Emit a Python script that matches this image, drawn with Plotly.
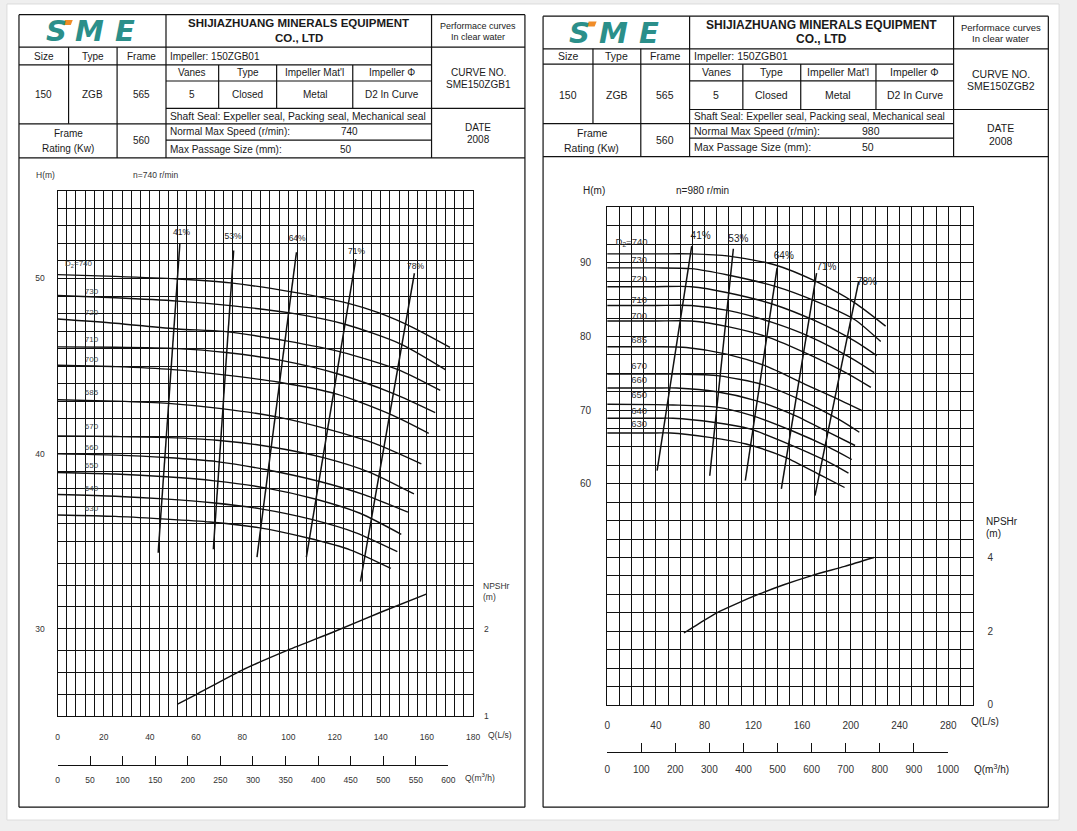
import plotly.graph_objects as go

W, H = 1077, 831
FONT = "Liberation Sans, Arial, sans-serif"

# ================= LEFT SHEET  (n = 740 r/min) =================
L_DIAMS = ["740", "730", "720", "710", "700", "685", "670", "660", "650", "640", "630"]
L_Q = [
    [0, 25, 52, 75, 102, 126, 139, 154, 170],
    [0, 25, 52, 75, 100, 124.5, 148.7, 168],
    [0, 25, 52, 72, 99, 123, 147.5, 165.8],
    [0, 25, 52, 73, 97.4, 121.6, 145.8, 163.6],
    [0, 25, 50, 72, 96, 121, 145, 160.8],
    [0, 25, 48, 71, 95, 117, 137, 157.6],
    [0, 25, 48, 69, 92, 116, 135, 154.4],
    [0, 25, 47, 69, 90, 114, 133, 151.8],
    [0, 25, 47, 68, 90, 112, 131, 148.9],
    [0, 25, 46, 67, 88, 110, 129, 147.2],
    [0, 25, 45, 66, 87, 108, 127, 144.4],
]
L_H = [
    [50.22, 50.12, 49.97, 49.75, 49.22, 48.58, 48.05, 47.2, 46.07],
    [49.03, 48.9, 48.71, 48.45, 48.05, 47.39, 46.26, 44.8],
    [47.69, 47.45, 47.12, 46.98, 46.44, 45.8, 44.8, 43.61],
    [46.1, 46.08, 46.0, 45.78, 45.31, 44.55, 43.42, 42.35],
    [45.05, 44.97, 44.8, 44.5, 44.08, 43.4, 42.2, 41.16],
    [43.08, 43.0, 42.87, 42.57, 42.1, 41.4, 40.6, 39.42],
    [41.02, 40.98, 40.92, 40.77, 40.4, 39.75, 38.95, 37.7],
    [39.99, 39.92, 39.78, 39.55, 39.1, 38.4, 37.65, 36.66],
    [38.93, 38.84, 38.68, 38.45, 38.05, 37.4, 36.6, 35.4],
    [37.67, 37.57, 37.42, 37.2, 36.85, 36.25, 35.5, 34.41],
    [36.5, 36.42, 36.28, 36.1, 35.78, 35.2, 34.5, 33.45],
]
L_DLAB_Q = [9.1, 14.7, 14.7, 14.7, 14.7, 14.7, 14.7, 14.7, 14.7, 14.7, 14.7]
L_DLAB_H = [50.8, 49.24, 48.05, 46.48, 45.36, 43.44, 41.53, 40.3, 39.3, 38.0, 36.85]
L_EFF = ["41%", "53%", "64%", "71%", "78%"]
L_EFF_Q = [[53.0, 43.6], [76.3, 67.5], [103.5, 86.4], [129.2, 107.8], [154.6, 131.2]]
L_EFF_H = [[52.0, 34.35], [51.6, 34.55], [51.5, 34.1], [51.1, 34.1], [50.3, 32.7]]
L_EFF_LQ = [53.7, 76.0, 103.8, 129.5, 155.1]
L_EFF_LH = [52.6, 52.4, 52.25, 51.5, 50.65]
L_NPSH_Q = [52, 60, 80, 100, 120, 140, 160]
L_NPSH = [1.14, 1.25, 1.53, 1.76, 1.97, 2.19, 2.40]
L_QTICKS = [0, 20, 40, 60, 80, 100, 120, 140, 160, 180]
L_HTICKS = [30, 40, 50]
L_NPSH_TICKS = [1, 2]
L_M3H_TICKS = [0, 50, 100, 150, 200, 250, 300, 350, 400, 450, 500, 550, 600]

# ================= RIGHT SHEET (n = 980 r/min) =================
R_DIAMS = ["740", "730", "720", "710", "700", "685", "670", "660", "650", "640", "630"]
R_Q = [
    [0, 40, 69, 100, 138, 171, 203, 228.6],
    [0, 40, 69, 100, 138, 171, 203, 224.6],
    [0, 40, 69, 100, 135.5, 171, 203, 221.3],
    [0, 40, 69, 100, 135.5, 168, 200, 219.2],
    [0, 40, 69, 100, 133, 165, 198, 216.5],
    [0, 40, 65, 98, 130, 162.5, 192, 209.7],
    [0, 40, 60, 92, 127, 160, 189.5, 207],
    [0, 40, 57, 90, 122, 154.4, 184, 203.5],
    [0, 40, 54, 90, 119, 151.7, 181.4, 200.8],
    [0, 40, 54, 87, 117, 149, 178.7, 198.1],
    [0, 40, 52, 84, 114, 146.3, 176, 194.9],
]
R_H = [
    [91.2, 91.2, 91.2, 90.9, 89.7, 87.5, 84.6, 81.4],
    [89.3, 89.3, 89.2, 88.3, 86.8, 84.8, 82.3, 79.3],
    [86.75, 86.75, 86.75, 85.9, 84.4, 82.1, 79.4, 77.4],
    [84.2, 84.2, 84.2, 83.5, 81.9, 79.85, 77.1, 75.1],
    [82.1, 82.1, 82.1, 81.3, 79.85, 77.6, 74.9, 73.1],
    [78.6, 78.6, 78.5, 77.6, 76.0, 73.5, 71.3, 69.9],
    [74.9, 74.9, 74.9, 74.65, 73.5, 71.3, 68.8, 67.0],
    [73.0, 73.0, 73.0, 72.5, 71.3, 69.25, 66.8, 65.2],
    [70.8, 70.75, 70.7, 70.4, 69.25, 67.2, 65.0, 63.3],
    [68.9, 68.9, 68.9, 68.35, 67.45, 65.4, 63.2, 61.45],
    [66.9, 66.9, 66.9, 66.3, 65.4, 63.6, 61.1, 59.5],
]
R_DLAB_Q = [20.0, 26.2, 26.2, 26.2, 26.2, 26.2, 26.2, 26.2, 26.2, 26.2, 26.2]
R_DLAB_H = [92.7, 90.3, 87.75, 84.9, 82.7, 79.4, 75.9, 74.0, 71.9, 69.8, 68.0]
R_EFF = ["41%", "53%", "64%", "71%", "78%"]
R_EFF_Q = [[69.4, 41.0], [103.6, 84.2], [139.5, 113.4], [171.9, 143.0], [206.5, 170.6]]
R_EFF_H = [[92.25, 61.8], [91.9, 61.1], [89.3, 60.45], [88.6, 59.3], [87.5, 58.4]]
R_EFF_LQ = [76.7, 107.7, 145.0, 180.0, 213.2]
R_EFF_LH = [93.6, 93.2, 90.8, 89.3, 87.3]
R_NPSH_Q = [63, 75, 90, 105, 125, 145, 168, 195, 219]
R_NPSH = [1.95, 2.2, 2.5, 2.73, 3.01, 3.26, 3.51, 3.76, 4.0]
R_QTICKS = [0, 40, 80, 120, 160, 200, 240, 280]
R_HTICKS = [60, 70, 80, 90]
R_NPSH_TICKS = [0, 2, 4]
R_M3H_TICKS = [0, 100, 200, 300, 400, 500, 600, 700, 800, 900, 1000]

# ---------------- layout geometry (pixels) ----------------
def fx(x):
    return x / W


def fy(y):
    return 1 - y / H


fig = go.Figure()


def add_sheet(xa, ya, yn, Q, Hh, diams, dq, dh, eff, eq, eh, elq, elh, nq, nv, fs, dcol):
    for i in range(len(diams)):
        fig.add_trace(go.Scatter(x=Q[i], y=Hh[i], mode="lines", xaxis=xa, yaxis=ya,
                                 line=dict(color="#111", width=1.4, shape="spline", smoothing=0.7),
                                 showlegend=False, hoverinfo="skip"))
    for i in range(len(eff)):
        fig.add_trace(go.Scatter(x=eq[i], y=eh[i], mode="lines", xaxis=xa, yaxis=ya,
                                 line=dict(color="#111", width=1.5),
                                 showlegend=False, hoverinfo="skip"))
    fig.add_trace(go.Scatter(x=nq, y=nv, mode="lines", xaxis=xa, yaxis=yn,
                             line=dict(color="#111", width=1.4, shape="spline", smoothing=0.7),
                             showlegend=False, hoverinfo="skip"))
    labels = ["D<sub>2</sub>=" + diams[0]] + diams[1:]
    fig.add_trace(go.Scatter(x=dq, y=dh, mode="text", text=labels, xaxis=xa, yaxis=ya,
                             textfont=dict(size=fs - 0.5, color=dcol, family=FONT),
                             showlegend=False, hoverinfo="skip"))
    fig.add_trace(go.Scatter(x=elq, y=elh, mode="text", text=eff, xaxis=xa, yaxis=ya,
                             textfont=dict(size=fs, color="#222", family=FONT),
                             showlegend=False, hoverinfo="skip"))


add_sheet("x", "y", "y2", L_Q, L_H, L_DIAMS, L_DLAB_Q, L_DLAB_H, L_EFF, L_EFF_Q, L_EFF_H,
          L_EFF_LQ, L_EFF_LH, L_NPSH_Q, L_NPSH, 8.5, "#444")
add_sheet("x3", "y3", "y4", R_Q, R_H, R_DIAMS, R_DLAB_Q, R_DLAB_H, R_EFF, R_EFF_Q, R_EFF_H,
          R_EFF_LQ, R_EFF_LH, R_NPSH_Q, R_NPSH, 10, "#333")

# dummy traces carrying the m3/h scales
fig.add_trace(go.Scatter(x=[0, 600], y=[None, None], xaxis="x5", yaxis="y5",
                         showlegend=False, hoverinfo="skip"))
fig.add_trace(go.Scatter(x=[0, 1000], y=[None, None], xaxis="x6", yaxis="y6",
                         showlegend=False, hoverinfo="skip"))

GRID = "#111"


def q_axis(x0, x1, rng, ticks, mdt, anchor, fs, stand):
    return dict(domain=[fx(x0), fx(x1)], range=rng, anchor=anchor,
                tickmode="array", tickvals=ticks, ticktext=[str(t) for t in ticks],
                showgrid=True, gridcolor=GRID, gridwidth=1,
                minor=dict(dtick=mdt, tick0=0, showgrid=True, gridcolor=GRID, gridwidth=1),
                showline=True, linecolor=GRID, linewidth=1.2, mirror=True, ticks="",
                tickfont=dict(size=fs, color="#333", family=FONT),
                ticklabelstandoff=stand, zeroline=False, fixedrange=True)


def h_axis(y0, y1, rng, ticks, minor_vals, anchor, fs, stand):
    return dict(domain=[fy(y1), fy(y0)], range=rng, anchor=anchor,
                tickmode="array", tickvals=ticks, ticktext=[str(t) for t in ticks],
                showgrid=True, gridcolor=GRID, gridwidth=1,
                minor=dict(tickmode="array", tickvals=minor_vals, showgrid=True,
                           gridcolor=GRID, gridwidth=1),
                showline=True, linecolor=GRID, linewidth=1.2, mirror=True, ticks="",
                tickfont=dict(size=fs, color="#333", family=FONT),
                ticklabelstandoff=stand, zeroline=False, fixedrange=True)


def n_axis(over, anchor, rng, ticks, fs, stand):
    return dict(overlaying=over, side="right", anchor=anchor, range=rng,
                tickmode="array", tickvals=ticks, ticktext=[str(t) for t in ticks],
                showgrid=False, showline=False, zeroline=False, ticks="",
                tickfont=dict(size=fs, color="#333", family=FONT),
                ticklabelstandoff=stand, fixedrange=True)


def m_axis(x0, x1, rng, ticks, anchor, fs, stand):
    return dict(domain=[fx(x0), fx(x1)], range=rng, anchor=anchor,
                tickmode="array", tickvals=ticks, ticktext=[str(t) for t in ticks],
                showgrid=False, zeroline=False, showline=True, linecolor=GRID, linewidth=1.2,
                ticks="inside", ticklen=9, tickwidth=1.2, tickcolor=GRID,
                tickfont=dict(size=fs, color="#333", family=FONT),
                ticklabelstandoff=stand, fixedrange=True)


def dummy_y(ypix):
    return dict(domain=[fy(ypix), fy(ypix) + 0.004], visible=False, fixedrange=True)


L_HGRID = [25, 26.25, 27.5, 28.75, 30, 31.25, 32.5, 33.75] + list(range(35, 56))
R_HGRID = [30 + 2.5 * k for k in range(28)]

fig.update_layout(
    width=W, height=H, margin=dict(l=0, r=0, t=0, b=0),
    paper_bgcolor="#efefef", plot_bgcolor="rgba(0,0,0,0)", showlegend=False,
    xaxis=q_axis(55.3, 476.7, [0, 180], L_QTICKS, 4, "y", 8.5, 12),
    yaxis=h_axis(192.3, 721.7, [25, 55], L_HTICKS, L_HGRID, "x", 8.5, 10),
    yaxis2=n_axis("y", "x", [1, 7], L_NPSH_TICKS, 8.5, 10),
    xaxis3=q_axis(612.7, 983.3, [0, 300], R_QTICKS, 10, "y3", 10, 11),
    yaxis3=h_axis(209, 710, [30, 97.5], R_HTICKS, R_HGRID, "x3", 10, 13),
    yaxis4=n_axis("y3", "x3", [0, 13.5], R_NPSH_TICKS, 10, 14),
    xaxis5=m_axis(55.3, 451.7, [0, 600], L_M3H_TICKS, "y5", 8.5, 6),
    yaxis5=dummy_y(771),
    xaxis6=m_axis(612.7, 958.3, [0, 1000], R_M3H_TICKS, "y6", 10, 8),
    yaxis6=dummy_y(757.7),
)

shapes = []
# white card
shapes.append(dict(type="rect", xref="paper", yref="paper", x0=fx(4), x1=fx(1071), y0=fy(826), y1=fy(4),
                   fillcolor="white", line=dict(color="#dcdcdc", width=1), layer="below"))


def seg(x0, y0, x1, y1, w=1.2):
    shapes.append(dict(type="line", xref="paper", yref="paper", x0=fx(x0), y0=fy(y0), x1=fx(x1), y1=fy(y1),
                       line=dict(color="#111", width=w)))


ANN = []


def txt(x, y, s, size, anchor="center", bold=False, color="#1a1a1a", italic=False, fam=FONT):
    if bold:
        s = "<b>" + s + "</b>"
    if italic:
        s = "<i>" + s + "</i>"
    ANN.append(dict(x=fx(x), y=fy(y), xref="paper", yref="paper", text=s, showarrow=False,
                    xanchor=anchor, yanchor="middle", font=dict(size=size, family=fam, color=color)))


def header(X, Y, bottom, fs, info):
    # outer frame of the sheet
    seg(X[0], Y[0], X[8], Y[0])
    seg(X[0], bottom, X[8], bottom)
    seg(X[0], Y[0], X[0], bottom)
    seg(X[8], Y[0], X[8], bottom)
    # horizontal rules
    seg(X[0], Y[1], X[8], Y[1])
    seg(X[0], Y[7], X[8], Y[7])
    seg(X[0], Y[2], X[7], Y[2])
    seg(X[3], Y[3], X[7], Y[3])
    seg(X[3], Y[4], X[8], Y[4])
    seg(X[0], Y[5], X[7], Y[5])
    seg(X[3], Y[6], X[7], Y[6])
    # vertical rules
    seg(X[3], Y[0], X[3], Y[7])
    seg(X[7], Y[0], X[7], Y[7])
    seg(X[1], Y[1], X[1], Y[5])
    seg(X[2], Y[1], X[2], Y[7])
    for k in (4, 5, 6):
        seg(X[k], Y[2], X[k], Y[4])
    mid = lambda a, b: (a + b) / 2
    # logo
    lx = mid(X[0], X[3])
    ly = mid(Y[0], Y[1])
    teal = "#2b8f8a"
    for dx, ch in ((-37, "S"), (-3, "M"), (33, "E")):
        txt(lx + dx, ly, ch, 29, bold=True, italic=True, color=teal, fam="DejaVu Sans, sans-serif")
    sx = lx - 28
    shapes.append(dict(type="path", xref="paper", yref="paper",
                       path="M %f %f L %f %f L %f %f L %f %f Z" % (
                           fx(sx), fy(ly - 11), fx(sx + 8), fy(ly - 11),
                           fx(sx + 6), fy(ly - 6), fx(sx - 2), fy(ly - 6)),
                       fillcolor="#f08c28", line=dict(width=0)))
    tx = mid(X[3], X[7])
    txt(tx, Y[0] + 8.8, "SHIJIAZHUANG MINERALS EQUIPMENT", fs + 1.5, bold=True)
    txt(tx, Y[0] + 23.3, "CO., LTD", fs + 1.5, bold=True)
    rx = mid(X[7], X[8])
    txt(rx, Y[0] + 11, "Performace curves", fs - 1)
    txt(rx, Y[0] + 22.5, "In clear water", fs - 1)
    txt(rx, Y[1] + 25.8, "CURVE NO.", fs)
    txt(rx, Y[1] + 37.8, info["curve"], fs)
    txt(rx, Y[4] + 18.8, "DATE", fs)
    txt(rx, Y[4] + 31.8, "2008", fs)
    r1 = mid(Y[1], Y[2])
    txt(mid(X[0], X[1]), r1, "Size", fs)
    txt(mid(X[1], X[2]), r1, "Type", fs)
    txt(mid(X[2], X[3]), r1, "Frame", fs)
    txt(X[3] + 2, r1, "Impeller: 150ZGB01", fs, anchor="left")
    rv = mid(Y[3], Y[4])
    txt(mid(X[0], X[1]), rv, "150", fs)
    txt(mid(X[1], X[2]), rv, "ZGB", fs)
    txt(mid(X[2], X[3]), rv, "565", fs)
    r2 = mid(Y[2], Y[3])
    for k, s in zip((3, 4, 5, 6), ("Vanes", "Type", "Impeller Mat'l", "Impeller \u03a6")):
        txt(mid(X[k], X[k + 1]), r2, s, fs)
    for k, s in zip((3, 4, 5, 6), ("5", "Closed", "Metal", "D2 In Curve")):
        txt(mid(X[k], X[k + 1]), rv, s, fs)
    txt(X[3] + 2, mid(Y[4], Y[5]), "Shaft Seal: Expeller seal, Packing seal, Mechanical seal",
        info["seal_fs"], anchor="left")
    txt(mid(X[0], X[2]), Y[5] + 9.6, "Frame", fs)
    txt(mid(X[0], X[2]), Y[5] + 25, "Rating (Kw)", fs)
    txt(mid(X[2], X[3]), mid(Y[5], Y[7]), "560", fs)
    txt(X[3] + 2, mid(Y[5], Y[6]), "Normal Max Speed (r/min):", fs, anchor="left")
    txt(info["vx"], mid(Y[5], Y[6]), info["speed"], fs)
    txt(X[3] + 2, mid(Y[6], Y[7]), "Max Passage Size (mm):", fs, anchor="left")
    txt(info["vx"] - 3, mid(Y[6], Y[7]), "50", fs)


LX = [16.2, 66.5, 115.7, 165.3, 218.7, 277.5, 354.7, 434.6, 529.3]
LY = [14.8, 47.5, 65.4, 81.6, 109.2, 124.7, 141.2, 159.1]
RX = [547.7, 598.3, 646.8, 696.3, 750.3, 809.0, 885.3, 964.0, 1060.1]
RY = [16.3, 49.2, 64.5, 81.4, 110.3, 124.5, 139.1, 157.8]

header(LX, LY, 813, 10, dict(curve="SME150ZGB1", speed="740", vx=351.2, seal_fs=10.3))
header(RX, RY, 813, 10.5, dict(curve="SME150ZGB2", speed="980", vx=880.0, seal_fs=10.1))

# chart captions
txt(43.3, 176.7, "H(m)", 8.5, color="#333")
txt(130, 176.7, "n=740 r/min", 8.5, color="#333", anchor="left")
txt(490, 740, "Q(L/s)", 8.5, color="#333", anchor="left")
txt(467, 783, "Q(m<sup>3</sup>/h)", 8.5, color="#333", anchor="left")
txt(485, 590.7, "NPSHr", 8.5, color="#333", anchor="left")
txt(485, 601.7, "(m)", 8.5, color="#333", anchor="left")

txt(599.3, 191.7, "H(m)", 10, color="#222")
txt(680, 191.7, "n=980 r/min", 10, color="#222", anchor="left")
txt(980, 726.7, "Q(L/s)", 10, color="#222", anchor="left")
txt(983, 774.3, "Q(m<sup>3</sup>/h)", 10, color="#222", anchor="left")
txt(995, 525, "NPSHr", 10, color="#222", anchor="left")
txt(995, 537.3, "(m)", 10, color="#222", anchor="left")

fig.update_layout(shapes=shapes, annotations=ANN)
fig.write_html("out.html")
